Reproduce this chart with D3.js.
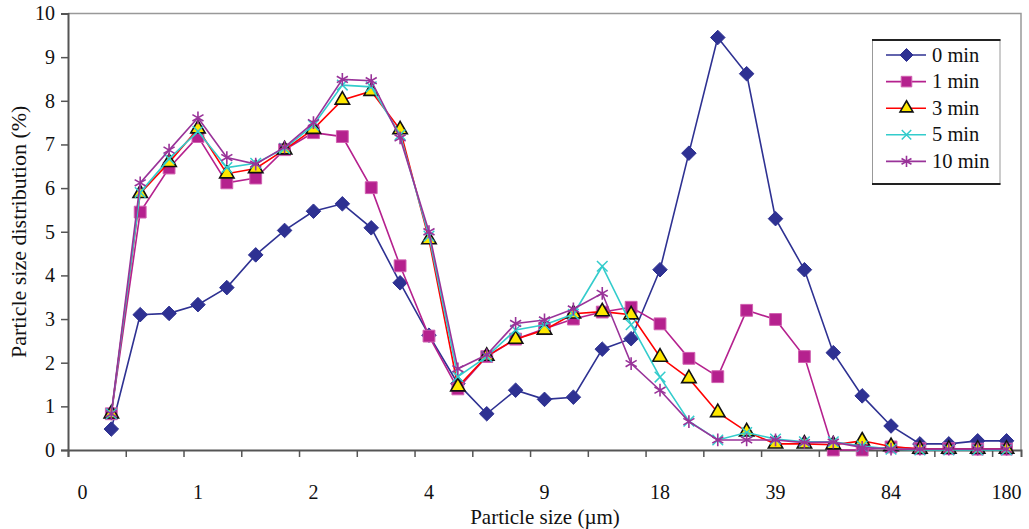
<!DOCTYPE html>
<html>
<head>
<meta charset="utf-8">
<script src="https://cdn.jsdelivr.net/npm/d3@7"></script>
<style>
  body { margin: 0; background: #fff; }
  text { font-family: "Liberation Serif", "Times New Roman", serif; fill: #111; }
</style>
</head>
<body>
<script>
// chart size
var svgWidth = 1029;
var svgHeight = 529;

// categories: 33 size classes, a label on every 4th one
var nCategories = 33;
var tickLabels = ["0", "1", "2", "4", "9", "18", "39", "84", "180"];
var labelEvery = 4;

var seriesNames = ["0 min", "1 min", "3 min", "5 min", "10 min"];

// values for categories 1..32 (category 0 is empty)
var min0 = [0.48, 3.10, 3.13, 3.33, 3.72, 4.47, 5.03, 5.47, 5.64, 5.09, 3.83, 2.63,
  1.52, 0.83, 1.37, 1.16, 1.21, 2.31, 2.55, 4.13, 6.80, 9.45, 8.62, 5.30,
  4.13, 2.23, 1.24, 0.55, 0.14, 0.14, 0.21, 0.21];
var min1 = [0.83, 5.45, 6.46, 7.18, 6.12, 6.23, 6.88, 7.27, 7.18, 6.01, 4.22, 2.61,
  1.40, 2.14, 2.54, 2.78, 3.00, 3.16, 3.27, 2.89, 2.10, 1.68, 3.20, 2.99,
  2.14, 0.00, 0.00, 0.07, 0.03, 0.03, 0.02, 0.02];
var min3 = [0.83, 5.88, 6.59, 7.36, 6.33, 6.45, 6.88, 7.35, 8.02, 8.22, 7.34, 4.82,
  1.45, 2.15, 2.54, 2.75, 3.12, 3.17, 3.10, 2.13, 1.64, 0.86, 0.42, 0.14,
  0.14, 0.12, 0.21, 0.08, 0.02, 0.02, 0.02, 0.02];
var min5 = [0.83, 5.90, 6.67, 7.30, 6.47, 6.57, 6.91, 7.44, 8.36, 8.32, 7.22, 4.90,
  1.68, 2.14, 2.75, 2.87, 3.11, 4.21, 2.87, 1.67, 0.66, 0.23, 0.40, 0.25,
  0.19, 0.19, 0.09, 0.02, 0.00, 0.00, 0.00, 0.00];
var min10 = [0.83, 6.12, 6.87, 7.61, 6.70, 6.55, 6.94, 7.50, 8.49, 8.46, 7.15, 5.00,
  1.86, 2.18, 2.90, 2.98, 3.23, 3.59, 1.98, 1.37, 0.65, 0.23, 0.23, 0.23,
  0.17, 0.18, 0.06, 0.02, 0.02, 0.02, 0.02, 0.02];

var allSeries = [min0, min1, min3, min5, min10];

var styles = [
  {line: "#2E3192", symbol: d3.symbolDiamond2, size: 135, fill: "#2E3192", stroke: "#2E3192", sw: 1},
  {line: "#B5218E", symbol: d3.symbolSquare, size: 140, fill: "#B5218E", stroke: "#D060B0", sw: 1},
  {line: "#FF0000", symbol: d3.symbolTriangle, size: 90, fill: "#FFE800", stroke: "#111", sw: 1.6},
  {line: "#33CCCC", symbol: d3.symbolX, size: 75, fill: "none", stroke: "#33CCCC", sw: 1.5},
  {line: "#993399", symbol: d3.symbolAsterisk, size: 115, fill: "none", stroke: "#993399", sw: 1.6}
];

var plot = {left: 68, right: 1021, top: 13.5, bottom: 450};

var svg = d3.select("body")
  .append("svg")
  .attr("width", svgWidth)
  .attr("height", svgHeight);

// scales
var xScale = d3.scaleLinear()
  .domain([0, nCategories])
  .range([plot.left, plot.right]);

var yScale = d3.scaleLinear()
  .domain([0, 10])
  .range([plot.bottom, plot.top]);

// top and right border
svg.append("path")
  .attr("d", `M${plot.left},${plot.top}H${plot.right}V${plot.bottom}`)
  .attr("fill", "none")
  .attr("stroke", "#999")
  .attr("stroke-width", 1.5);

// y axis
var leftAxis = d3.axisLeft(yScale)
  .ticks(10)
  .tickSize(7)
  .tickPadding(6);

var yAxisG = svg.append("g")
  .attr("transform", `translate(${plot.left}, 0)`)
  .call(leftAxis);

// x axis: tick marks every 2 categories, labels every 4
var tickPositions = d3.range(0, nCategories, 2);
var bottomAxis = d3.axisBottom(xScale)
  .tickValues(tickPositions)
  .tickFormat("")
  .tickSizeOuter(0)
  .tickSize(7);

var xAxisG = svg.append("g")
  .attr("transform", `translate(0, ${plot.bottom})`)
  .call(bottomAxis);

[yAxisG, xAxisG].forEach(function (g) {
  g.select(".domain").attr("stroke", "#555").attr("stroke-width", 2);
  g.selectAll(".tick line").attr("stroke", "#555").attr("stroke-width", 1.5);
  g.selectAll("text").style("font-size", "20px").attr("fill", "#111")
    .style("font-family", "'Liberation Serif', serif");
});

svg.append("g")
  .selectAll("text")
  .data(tickLabels)
  .enter()
  .append("text")
  .attr("x", (d, i) => xScale(i * labelEvery + 0.5))
  .attr("y", 499)
  .style("font-size", "20px")
  .style("text-anchor", "middle")
  .text(d => d);

// lines and markers
var line = d3.line()
  .x((d, i) => xScale(i + 1.5))
  .y(d => yScale(d));

allSeries.forEach(function (values, s) {
  var st = styles[s];
  var g = svg.append("g");
  g.append("path")
    .datum(values)
    .attr("d", line)
    .attr("fill", "none")
    .attr("stroke", st.line)
    .attr("stroke-width", 1.6);
  g.selectAll("path.marker")
    .data(values)
    .enter()
    .append("path")
    .attr("class", "marker")
    .attr("transform", (d, i) => `translate(${xScale(i + 1.5)}, ${yScale(d)})`)
    .attr("d", d3.symbol().type(st.symbol).size(st.size))
    .attr("fill", st.fill)
    .attr("stroke", st.stroke)
    .attr("stroke-width", st.sw);
});

// legend
var legend = svg.append("g");
legend.append("rect")
  .attr("x", 872.5).attr("y", 40)
  .attr("width", 127.5).attr("height", 144)
  .attr("fill", "#fff")
  .attr("stroke", "#999")
  .attr("stroke-width", 1);
legend.append("line").attr("x1", 872).attr("x2", 1000.5).attr("y1", 40).attr("y2", 40)
  .attr("stroke", "#222").attr("stroke-width", 2);
legend.append("line").attr("x1", 872).attr("x2", 1000.5).attr("y1", 184).attr("y2", 184)
  .attr("stroke", "#222").attr("stroke-width", 2);

seriesNames.forEach(function (name, s) {
  var st = styles[s];
  var yy = 55 + s * 26.6;
  legend.append("line")
    .attr("x1", 886).attr("x2", 926)
    .attr("y1", yy).attr("y2", yy)
    .attr("stroke", st.line)
    .attr("stroke-width", 1.6);
  legend.append("path")
    .attr("transform", `translate(906.5, ${yy})`)
    .attr("d", d3.symbol().type(st.symbol).size(st.size * 0.8))
    .attr("fill", st.fill)
    .attr("stroke", st.stroke)
    .attr("stroke-width", st.sw);
  legend.append("text")
    .attr("x", 932)
    .attr("y", yy + 6.5)
    .style("font-size", "20.5px")
    .text(name);
});

// axis labels
svg.append("text")
  .attr("transform", `translate(26, ${(plot.top + plot.bottom) / 2}) rotate(-90)`)
  .style("font-size", "22px")
  .style("text-anchor", "middle")
  .text("Particle size distribution (%)");

svg.append("text")
  .attr("x", 545)
  .attr("y", 524)
  .style("font-size", "21px")
  .style("text-anchor", "middle")
  .text("Particle size (µm)");
</script>
</body>
</html>
